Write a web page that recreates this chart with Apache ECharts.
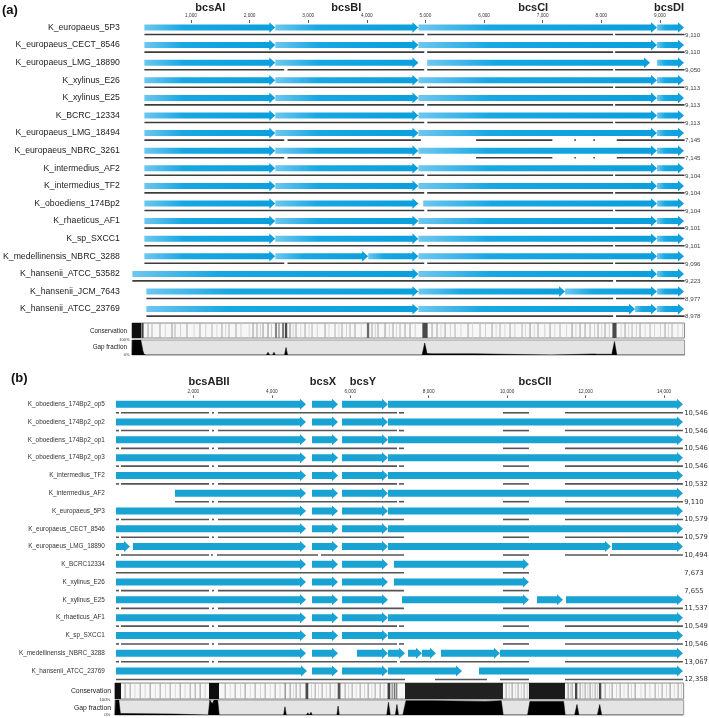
<!DOCTYPE html>
<html><head><meta charset="utf-8">
<script src="https://cdn.jsdelivr.net/npm/echarts@6/dist/echarts.min.js"></script>
<style>html,body{margin:0;padding:0;background:#fff}#c{width:709px;height:718px}</style>
</head><body><div id="c"></div>
<script>
// ---------- Panel (a) data ----------
const rowsA = ['K_europaeus_5P3','K_europaeus_CECT_8546','K_europaeus_LMG_18890','K_xylinus_E26','K_xylinus_E25','K_BCRC_12334','K_europaeus_LMG_18494','K_europaeus_NBRC_3261','K_intermedius_AF2','K_intermedius_TF2','K_oboediens_174Bp2','K_rhaeticus_AF1','K_sp_SXCC1','K_medellinensis_NBRC_3288','K_hansenii_ATCC_53582','K_hansenii_JCM_7643','K_hansenii_ATCC_23769'];
const lengthsA = ['9,110','9,110','9,050','9,113','9,113','9,113','7,145','7,145','9,104','9,104','9,104','9,101','9,101','9,096','9,223','8,977','8,978'];
const geneNamesA = ['bcsAI','bcsBI','bcsCI','bcsDI'];
const genePosA = [1330, 3649, 6837, 9156];
const ticksA = [1000,2000,3000,4000,5000,6000,7000,8000,9000];
// [row, start, end]
const arrowsA = [
 [0,205,2438],[0,2438,4880],[0,4880,8950],[0,8950,9410],
 [1,205,2438],[1,2438,4880],[1,4880,8950],[1,8950,9410],
 [2,205,2438],[2,2438,4880],[2,5029,8831],[2,8950,9410],
 [3,205,2438],[3,2438,4880],[3,4880,8950],[3,8950,9410],
 [4,205,2438],[4,2438,4880],[4,4880,8950],[4,8950,9410],
 [5,205,2438],[5,2438,4880],[5,4880,8950],[5,8950,9410],
 [6,205,2438],[6,2438,4880],[6,4880,8950],[6,8950,9410],
 [7,205,2438],[7,2438,4880],[7,4880,8950],[7,8950,9410],
 [8,205,2438],[8,2438,4880],[8,4880,8950],[8,8950,9410],
 [9,205,2438],[9,2438,4880],[9,4880,8950],[9,8950,9410],
 [10,205,2438],[10,2438,4880],[10,4962,8950],[10,8950,9410],
 [11,205,2438],[11,2438,4880],[11,4880,8950],[11,8950,9410],
 [12,205,2438],[12,2438,4880],[12,4880,8950],[12,8950,9410],
 [13,205,2438],[13,2438,4023],[13,4023,4880],[13,4880,8950],[13,8950,9410],
 [14,0,4880],[14,4880,8950],[14,8950,9410],
 [15,239,4880],[15,4880,7382],[15,7382,8950],[15,8950,9410],
 [16,239,4880],[16,4880,8575],[16,8575,8950],[16,8950,9410]
];
const linesA = [
 [0,205,4979],[0,5030,8201],[0,8235,9420],
 [1,205,4979],[1,5030,8201],[1,8235,9420],
 [2,205,2591],[2,2647,4979],[2,5030,8201],[2,8235,9420],
 [3,205,4979],[3,5030,8201],[3,8235,9420],
 [4,205,4979],[4,5030,8201],[4,8235,9420],
 [5,205,4979],[5,5030,8201],[5,8235,9420],
 [6,205,2591],[6,2647,4921],[6,5864,7165],[6,7540,7565],[6,7865,7890],[6,8263,9420],
 [7,205,2591],[7,2647,4921],[7,5864,7165],[7,7540,7565],[7,7865,7890],[7,8263,9420],
 [8,205,4979],[8,5030,8201],[8,8235,9420],
 [9,205,4979],[9,5030,8201],[9,8235,9420],
 [10,205,4979],[10,5030,8201],[10,8235,9420],
 [11,205,4979],[11,5030,8201],[11,8235,9420],
 [12,205,4979],[12,5030,8201],[12,8235,9420],
 [13,205,2591],[13,2647,4979],[13,5030,8201],[13,8235,9420],
 [14,0,8201],[14,8250,9420],
 [15,239,8201],[15,8250,9420],
 [16,239,8201],[16,8250,9420]
];
// [start, end, darkness 0..1]
const conservationA = [
 [0,195,1],[263,283,0.3],[331,351,0.25],[467,487,0.3],[672,692,0.35],[723,743,0.25],[928,948,0.3],[1149,1169,0.3],
 [1354,1374,0.25],[1524,1544,0.3],[1644,1664,0.25],[1763,1783,0.3],[2053,2073,0.35],[2121,2141,0.3],[2224,2244,0.35],
 [2309,2329,0.4],[2440,2470,0.55],[2496,2516,0.5],[2560,2590,0.6],[2606,2646,0.75],[2684,2704,0.4],[2786,2806,0.3],
 [2940,2960,0.3],[3059,3079,0.25],[3281,3301,0.3],[3451,3471,0.25],[3570,3590,0.3],[3707,3727,0.25],[3792,3812,0.3],
 [4004,4044,0.6],[4082,4102,0.3],[4184,4204,0.3],[4304,4324,0.35],[4440,4460,0.3],[4559,4579,0.25],[4645,4665,0.3],
 [4730,4750,0.3],[4950,5040,0.75],[5105,5125,0.3],[5190,5210,0.3],[5327,5347,0.3],[5497,5517,0.25],[5719,5739,0.3],
 [5923,5943,0.25],[6128,6148,0.3],[6264,6284,0.25],[6435,6455,0.3],[6640,6660,0.25],[6776,6796,0.35],[6912,6932,0.3],
 [7117,7137,0.3],[7287,7307,0.25],[7492,7512,0.35],[7628,7648,0.3],[7714,7734,0.3],[7799,7819,0.25],[7935,7955,0.3],
 [8054,8074,0.3],[8190,8260,0.75],[8395,8415,0.3],[8515,8535,0.25],[8651,8671,0.3],[8822,8842,0.25],[9077,9097,0.3],[9196,9216,0.25],
 [160,175,0.15],[560,575,0.15],[820,835,0.18],[1050,1065,0.15],[1250,1265,0.18],[1440,1455,0.15],[1590,1605,0.15],
 [1850,1865,0.18],[1990,2005,0.15],[2180,2195,0.18],[2370,2385,0.2],[2740,2755,0.18],[2870,2885,0.15],[3010,3025,0.15],
 [3150,3165,0.18],[3350,3365,0.15],[3520,3535,0.15],[3650,3665,0.18],[3900,3915,0.15],[4140,4155,0.18],[4380,4395,0.15],
 [4500,4515,0.15],[4820,4835,0.18],[5260,5275,0.15],[5420,5435,0.18],[5600,5615,0.15],[5800,5815,0.15],[6020,6035,0.18],
 [6200,6215,0.15],[6350,6365,0.15],[6520,6535,0.18],[6700,6715,0.15],[6850,6865,0.15],[7030,7045,0.18],[7200,7215,0.15],
 [7400,7415,0.15],[7560,7575,0.18],[7880,7895,0.2],[8000,8015,0.15],[8130,8145,0.18],[8330,8345,0.15],[8460,8475,0.15],
 [8590,8605,0.18],[8740,8755,0.15],[8900,8915,0.15],[9000,9015,0.18],[9140,9155,0.15],[9300,9315,0.15],[9380,9395,0.18]
];
// [position, gap fraction]
const gapA = [
 [0,0],[5,1],[150,1],[185,0.3],[205,0.05],[240,0],[2290,0],[2319,0.18],[2345,0],[2395,0],[2420,0.18],[2445,0],
 [2600,0],[2626,0.5],[2652,0],[4945,0],[4990,0.8],[5030,0.1],[5100,0.08],[5850,0.08],[5870,0],
 [7150,0],[7170,0.07],[7880,0.07],[7905,0.15],[7930,0.05],[8180,0.05],[8225,0.9],[8265,0],[9420,0]
];

// ---------- Panel (b) data ----------
const rowsB = ['K_oboediens_174Bp2_op5','K_oboediens_174Bp2_op2','K_oboediens_174Bp2_op1','K_oboediens_174Bp2_op3','K_intermedius_TF2','K_intermedius_AF2','K_europaeus_5P3','K_europaeus_CECT_8546','K_europaeus_LMG_18890','K_BCRC12334','K_xylinus_E26','K_xylinus_E25','K_rhaeticus_AF1','K_sp_SXCC1','K_medellinensis_NBRC_3288','K_hansenii_ATCC_23769'];
const lengthsB = ['10,546','10,546','10,546','10,546','10,532','9,110','10,579','10,579','10,494','7,673','7,655','11,537','10,549','10,546','13,067','12,358'];
const geneNamesB = ['bcsABII','bcsX','bcsY','bcsCII'];
const genePosB = [2399, 5305, 6324, 10709];
const ticksB = [2000,4000,6000,8000,10000,12000,14000];
const arrowsB = [
 [0,28,4872],[0,5025,5688],[0,5790,6962],[0,6962,14482],
 [1,28,4872],[1,5025,5688],[1,5790,6962],[1,6962,14482],
 [2,28,4872],[2,5025,5688],[2,5790,6962],[2,6962,14482],
 [3,28,4872],[3,5025,5688],[3,5790,6962],[3,6962,14482],
 [4,28,4872],[4,5025,5688],[4,5790,6962],[4,6962,14482],
 [5,1532,4872],[5,5025,5688],[5,5790,6962],[5,6962,14482],
 [6,28,4872],[6,5025,5688],[6,5790,6962],[6,6962,14482],
 [7,28,4872],[7,5025,5688],[7,5790,6962],[7,6962,14482],
 [8,28,385],[8,461,4872],[8,5025,5688],[8,5790,6962],[8,6962,12646],[8,12672,14482],
 [9,28,4872],[9,5025,5688],[9,5790,6962],[9,7115,10556],
 [10,28,4872],[10,5025,5688],[10,5790,6962],[10,7115,10556],
 [11,28,4872],[11,5025,5688],[11,5790,6962],[11,7319,10556],[11,10760,11423],[11,11499,14482],
 [12,28,4872],[12,5025,5688],[12,5790,6962],[12,6962,14482],
 [13,28,4872],[13,5025,5688],[13,5790,6962],[13,6962,14482],
 [14,28,4872],[14,5025,5688],[14,6172,6962],[14,6962,7396],[14,7472,7829],[14,7829,8186],[14,8313,9817],[14,9817,14482],
 [15,28,4898],[15,5025,5688],[15,5790,6962],[15,6962,8849],[15,9282,14482]
];
const linesB = [
 [0,28,105],[0,156,2399],[0,2475,2526],[0,2628,7192],[0,7243,7370],[0,9893,10556],[0,11474,14482],
 [1,28,105],[1,156,2399],[1,2475,2526],[1,2628,7192],[1,7243,7370],[1,9893,10556],[1,11474,14482],
 [2,28,105],[2,156,2399],[2,2475,2526],[2,2628,7192],[2,7243,7370],[2,9893,10556],[2,11474,14482],
 [3,28,105],[3,156,2399],[3,2475,2526],[3,2628,7192],[3,7243,7370],[3,9893,10556],[3,11474,14482],
 [4,28,105],[4,156,2399],[4,2475,2526],[4,2628,7192],[4,7243,7370],[4,9893,10556],[4,11474,14482],
 [5,1532,2399],[5,2475,2526],[5,2628,7192],[5,7243,7370],[5,9893,10556],[5,11474,14482],
 [6,28,105],[6,156,2399],[6,2475,2526],[6,2628,7370],[6,9893,10556],[6,11474,14482],
 [7,28,105],[7,156,2399],[7,2475,2526],[7,2628,7370],[7,9893,10556],[7,11474,14482],
 [8,28,105],[8,156,2399],[8,2450,2500],[8,2603,5178],[8,5255,7370],[8,9893,10556],[8,11474,12570],[8,12621,14482],
 [9,28,7370],[9,9893,10556],
 [10,28,105],[10,156,2399],[10,2475,2526],[10,2628,7370],[10,9893,10556],
 [11,28,105],[11,156,2399],[11,2475,2526],[11,2628,7370],[11,9893,14482],
 [12,28,105],[12,156,2399],[12,2475,2526],[12,2628,7192],[12,7243,7370],[12,9893,10556],[12,11474,14482],
 [13,28,105],[13,156,2399],[13,2475,2526],[13,2628,7192],[13,7243,7370],[13,9893,10556],[13,11474,14482],
 [14,28,105],[14,156,2399],[14,2475,2526],[14,2628,7192],[14,7268,10556],[14,11474,14482],
 [15,28,7396],[15,8160,9486],[15,9817,10556],[15,11474,14482]
];
const conservationB = [
 [0,156,1],[247,277,0.3],[375,405,0.3],[630,660,0.3],[885,915,0.35],[1140,1170,0.3],[1395,1425,0.3],[1650,1680,0.35],
 [1905,1935,0.3],[2032,2062,0.3],[2159,2189,0.35],[2399,2654,1],[2797,2827,0.3],[3051,3081,0.3],[3306,3336,0.35],
 [3561,3591,0.3],[3816,3846,0.3],[4071,4101,0.3],[4326,4356,0.5],[4453,4483,0.35],[4606,4636,0.3],[4708,4738,0.3],
 [4860,4930,0.75],[5091,5121,0.3],[5269,5299,0.3],[5473,5503,0.3],[5680,5750,0.7],[5855,5885,0.3],[6034,6064,0.3],
 [6238,6268,0.3],[6442,6472,0.35],[6620,6650,0.3],[6748,6778,0.3],[6950,7020,0.8],[7054,7084,0.5],[7110,7140,0.6],
 [7156,7200,0.5],[7396,9893,0.92],[9959,9989,0.3],[10112,10142,0.35],[10265,10295,0.3],[10418,10448,0.3],
 [10556,11474,0.95],[11540,11570,0.4],[11642,11672,0.35],[11730,11790,0.75],[11846,11876,0.35],[11974,12004,0.3],
 [12101,12131,0.35],[12229,12259,0.3],[12340,12400,0.75],[12484,12514,0.3],[12662,12692,0.35],[12866,12896,0.3],
 [13070,13100,0.3],[13248,13278,0.35],[13503,13533,0.3],[13758,13788,0.3],[13936,13966,0.3],[14140,14170,0.35],[14344,14374,0.3],
 [500,520,0.15],[760,780,0.18],[1020,1040,0.15],[1280,1300,0.18],[1530,1550,0.15],[1780,1800,0.18],[2290,2310,0.2],
 [2930,2950,0.15],[3190,3210,0.18],[3440,3460,0.15],[3700,3720,0.18],[3950,3970,0.15],[4200,4220,0.18],[4540,4560,0.15],
 [5000,5020,0.18],[5180,5200,0.15],[5380,5400,0.18],[5600,5620,0.15],[5950,5970,0.18],[6140,6160,0.15],[6350,6370,0.18],
 [6540,6560,0.15],[6850,6870,0.2],[10040,10060,0.18],[10200,10220,0.15],[10350,10370,0.18],[10500,10520,0.2],
 [11600,11620,0.18],[11920,11940,0.15],[12050,12070,0.18],[12170,12190,0.15],[12290,12310,0.18],[12600,12620,0.15],
 [12780,12800,0.18],[12970,12990,0.15],[13160,13180,0.18],[13400,13420,0.15],[13630,13650,0.18],[13850,13870,0.15],
 [14050,14070,0.18],[14250,14270,0.15],[14430,14450,0.18]
];
const gapB = [
 [0,0],[20,1],[100,1],[140,0.1],[160,0.06],[1530,0.06],[1560,0],
 [2380,0],[2420,1],[2480,0.75],[2530,1],[2620,1],[2660,0],
 [4300,0],[4336,0.55],[4370,0],[4880,0],[4920,0.15],[4950,0],[4980,0],[5000,0.18],[5030,0],
 [5660,0],[5690,0.6],[5720,0],[6930,0],[6975,0.85],[7020,0],[7150,0],[7190,0.7],[7230,0],
 [7340,0],[7420,0.95],[8150,0.95],[8170,0.9],[9450,0.9],[9480,0.95],[9850,0.95],[9900,0],
 [10520,0],[10580,0.9],[11440,0.9],[11480,0],[11720,0],[11780,0.7],[11830,0],
 [12300,0],[12360,0.7],[12410,0],[12550,0],[12580,0.05],[12620,0],[14482,0]
];

// ---------- layout / style ----------
const FONT = 'Liberation Sans, Arial, Helvetica, sans-serif';
const A_MAX = 9420, B_MAX = 14500;
const fmt = v => Number(v).toLocaleString('en-US');

function arrowRender(body, head, headLen, fillFn) {
  return function (params, api) {
    const row = api.value(0);
    const p0 = api.coord([api.value(1), row]);
    const p1 = api.coord([api.value(2), row]);
    const y = p0[1], x0 = p0[0], x1 = p1[0];
    const hl = Math.min(headLen, (x1 - x0) * 0.6);
    const bh = body / 2, hh = head / 2;
    return {
      type: 'polygon',
      shape: { points: [[x0, y - bh], [x1 - hl, y - bh], [x1 - hl, y - hh], [x1, y], [x1 - hl, y + hh], [x1 - hl, y + bh], [x0, y + bh]] },
      style: { fill: fillFn() }
    };
  };
}
function lineRender(offset, w, color) {
  return function (params, api) {
    const row = api.value(0);
    const p0 = api.coord([api.value(1), row]);
    const p1 = api.coord([api.value(2), row]);
    return { type: 'rect', shape: { x: p0[0], y: p0[1] + offset - w / 2, width: p1[0] - p0[0], height: w }, style: { fill: color } };
  };
}
function lengthRender(labels, xMax, offset, size, color, family) {
  return function (params, api) {
    const p = api.coord([xMax, api.value(0)]);
    return { type: 'text', x: p[0] + 0.5, y: p[1] + offset,
      style: { text: labels[params.dataIndex], fontSize: size, fill: color, fontFamily: family, verticalAlign: 'middle', align: 'left' } };
  };
}
function consRender(params, api) {
  const cs = params.coordSys;
  const s = api.coord([api.value(0), 0]);
  const e = api.coord([api.value(1), 0]);
  const g = Math.round(245 - api.value(2) * 230);
  return { type: 'rect', shape: { x: s[0], y: cs.y, width: Math.max(e[0] - s[0], 0.8), height: cs.height },
    style: { fill: 'rgb(' + g + ',' + g + ',' + g + ')' } };
}
const gradA = () => new echarts.graphic.LinearGradient(0, 0, 1, 0, [
  { offset: 0, color: '#6cc7ef' }, { offset: 0.3, color: '#17a7e3' }, { offset: 1, color: '#0a9fdc' }]);
const fillB = () => '#19a3d3';

const gA = { left: 132, width: A_MAX * 0.05866 };
const gB = { left: 114.9, width: B_MAX * 0.039225 };

const grids = [
  { left: gA.left, width: gA.width, top: 18.7, height: 17 * 17.6 },
  { left: gA.left, width: gA.width, top: 323, height: 15, show: true, backgroundColor: '#f7f7f7', borderColor: '#888', borderWidth: 1 },
  { left: gA.left, width: gA.width, top: 340, height: 15, show: true, backgroundColor: '#e4e4e4', borderColor: '#999', borderWidth: 1 },
  { left: gB.left, width: gB.width, top: 395.4, height: 16 * 17.78 },
  { left: gB.left, width: gB.width, top: 683, height: 16, show: true, backgroundColor: '#f7f7f7', borderColor: '#888', borderWidth: 1 },
  { left: gB.left, width: gB.width, top: 700, height: 15, show: true, backgroundColor: '#e4e4e4', borderColor: '#999', borderWidth: 1 }
];
const hiddenX = (gi, max) => ({ type: 'value', gridIndex: gi, min: 0, max: max, show: false });
const hiddenY = (gi) => ({ type: 'value', gridIndex: gi, min: 0, max: 1, show: false });

const xAxis = [
  { type: 'value', gridIndex: 0, min: 0, max: A_MAX, position: 'top', offset: -1.3,
    axisLine: { show: false }, splitLine: { show: false },
    axisTick: { show: true, inside: true, length: 3, customValues: ticksA, lineStyle: { color: '#333', width: 0.8 } },
    axisLabel: { customValues: ticksA, formatter: fmt, fontSize: 4.7, margin: 2, color: '#333', fontFamily: FONT } },
  { type: 'value', gridIndex: 0, min: 0, max: A_MAX, position: 'top',
    axisLine: { show: false }, splitLine: { show: false }, axisTick: { show: false },
    axisLabel: { customValues: genePosA, formatter: v => geneNamesA[genePosA.indexOf(v)], fontSize: 11, fontWeight: 'bold', margin: 5, color: '#222', fontFamily: FONT } },
  hiddenX(1, A_MAX), hiddenX(2, A_MAX),
  { type: 'value', gridIndex: 3, min: 0, max: B_MAX, position: 'top', offset: 0,
    axisLine: { show: false }, splitLine: { show: false },
    axisTick: { show: true, inside: true, length: 2.5, customValues: ticksB, lineStyle: { color: '#333', width: 0.8 } },
    axisLabel: { customValues: ticksB, formatter: fmt, fontSize: 4.7, margin: 1.5, color: '#333', fontFamily: FONT } },
  { type: 'value', gridIndex: 3, min: 0, max: B_MAX, position: 'top',
    axisLine: { show: false }, splitLine: { show: false }, axisTick: { show: false },
    axisLabel: { customValues: genePosB, formatter: v => geneNamesB[genePosB.indexOf(v)], fontSize: 11, fontWeight: 'bold', margin: 8, color: '#222', fontFamily: FONT } },
  hiddenX(4, B_MAX), hiddenX(5, B_MAX)
];
const pctAxis = (gi, size, margin) => ({ type: 'value', gridIndex: gi, min: 0, max: 1,
  axisLine: { show: false }, axisTick: { show: false }, splitLine: { show: false },
  axisLabel: { customValues: [0, 1], formatter: v => (v * 100) + '%', fontSize: size, margin: margin, color: '#333', fontFamily: FONT } });
const yAxis = [
  { type: 'category', gridIndex: 0, data: rowsA, inverse: true,
    axisLine: { show: false }, axisTick: { show: false }, splitLine: { show: false },
    axisLabel: { fontSize: 8.7, margin: 12.5, color: '#222', fontFamily: FONT } },
  hiddenY(1),
  pctAxis(2, 4, 2.5),
  { type: 'category', gridIndex: 3, data: rowsB, inverse: true,
    axisLine: { show: false }, axisTick: { show: false }, splitLine: { show: false },
    axisLabel: { fontSize: 6.4, margin: 10, color: '#333', fontFamily: FONT } },
  hiddenY(4),
  pctAxis(5, 4.3, 4.5)
];

const idxA = rowsA.map((r, i) => [i]);
const idxB = rowsB.map((r, i) => [i]);

const series = [
  { type: 'custom', xAxisIndex: 0, yAxisIndex: 0, clip: false, encode: { x: 1, y: 0 }, data: linesA, renderItem: lineRender(7, 1.6, '#3c3c3c') },
  { type: 'custom', xAxisIndex: 0, yAxisIndex: 0, clip: false, encode: { x: [1, 2], y: 0 }, data: arrowsA, renderItem: arrowRender(6, 10.6, 6, gradA) },
  { type: 'custom', xAxisIndex: 0, yAxisIndex: 0, clip: false, encode: { y: 0 }, data: idxA, renderItem: lengthRender(lengthsA, A_MAX, 7.5, 6.2, '#444', FONT) },
  { type: 'custom', xAxisIndex: 2, yAxisIndex: 1, encode: { x: [0, 1], y: 2 }, data: conservationA, renderItem: consRender },
  { type: 'line', xAxisIndex: 3, yAxisIndex: 2, data: gapA, symbol: 'none', lineStyle: { width: 0.5, color: '#000' }, areaStyle: { color: '#000', opacity: 1 } },
  { type: 'custom', xAxisIndex: 4, yAxisIndex: 3, clip: false, encode: { x: 1, y: 0 }, data: linesB, renderItem: lineRender(8.5, 1.6, '#555') },
  { type: 'custom', xAxisIndex: 4, yAxisIndex: 3, clip: false, encode: { x: [1, 2], y: 0 }, data: arrowsB, renderItem: arrowRender(7, 11, 6, fillB) },
  { type: 'custom', xAxisIndex: 4, yAxisIndex: 3, clip: false, encode: { y: 0 }, data: idxB, renderItem: lengthRender(lengthsB, B_MAX, 8.7, 6.8, '#333', 'DejaVu Sans, sans-serif') },
  { type: 'custom', xAxisIndex: 6, yAxisIndex: 4, encode: { x: [0, 1], y: 2 }, data: conservationB, renderItem: consRender },
  { type: 'line', xAxisIndex: 7, yAxisIndex: 5, data: gapB, symbol: 'none', lineStyle: { width: 0.5, color: '#000' }, areaStyle: { color: '#000', opacity: 1 } }
];

const txt = (text, x, y, size) => ({ type: 'text', x: x, y: y,
  style: { text: text, fontSize: size, fill: '#222', fontFamily: FONT, align: 'right', verticalAlign: 'middle' } });

const chart = echarts.init(document.getElementById('c'));
chart.setOption({
  animation: false,
  backgroundColor: '#fff',
  title: [
    { text: '(a)', left: 2, top: 4, padding: 0, textStyle: { fontSize: 13, fontWeight: 'bold', color: '#111', fontFamily: FONT } },
    { text: '(b)', left: 11, top: 372, padding: 0, textStyle: { fontSize: 13, fontWeight: 'bold', color: '#111', fontFamily: FONT } }
  ],
  grid: grids, xAxis: xAxis, yAxis: yAxis, series: series,
  graphic: [
    txt('Conservation', 127, 331, 6.3), txt('Gap fraction', 127, 347.5, 6.3),
    txt('Conservation', 111, 691.5, 6.8), txt('Gap fraction', 111, 708, 6.8)
  ]
});
</script></body></html>
